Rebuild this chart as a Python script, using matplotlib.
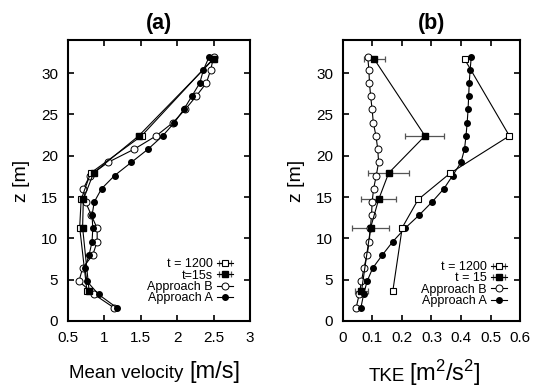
import matplotlib
matplotlib.use("Agg")
import matplotlib.pyplot as plt

plt.rcParams['font.family'] = ['Liberation Sans', 'DejaVu Sans']
plt.rcParams['mathtext.fontset'] = 'custom'
plt.rcParams['mathtext.rm'] = 'Liberation Sans'
plt.rcParams['mathtext.it'] = 'Liberation Sans'

# heights of the model levels and of the measurement points
z_model = [1.6, 3.2, 4.8, 6.4, 8.0, 9.6, 11.2, 12.8, 14.4, 16.0,
           17.6, 19.2, 20.8, 22.4, 24.0, 25.6, 27.2, 28.8, 30.4, 32.0]
z_meas = [3.6, 11.3, 14.7, 17.9, 22.4, 31.7]

# (a) mean velocity
velA = [1.17, 0.92, 0.76, 0.73, 0.79, 0.83, 0.84, 0.83, 0.86, 0.96,
        1.14, 1.37, 1.60, 1.80, 1.96, 2.09, 2.20, 2.31, 2.36, 2.44]
velB = [1.13, 0.86, 0.65, 0.70, 0.84, 0.90, 0.90, 0.82, 0.74, 0.71,
        0.80, 1.05, 1.41, 1.71, 1.94, 2.11, 2.26, 2.40, 2.46, 2.50]
vel1200 = [0.76, 0.66, 0.68, 0.81, 1.51, 2.49]
vel1200_err = [0.02, 0.03, 0.02, 0.02, 0.03, 0.02]
vel15 = [0.79, 0.70, 0.71, 0.85, 1.47, 2.50]
vel15_err = [0.02, 0.03, 0.02, 0.02, 0.03, 0.02]

# (b) TKE
tkeA = [0.061, 0.070, 0.082, 0.101, 0.134, 0.169, 0.210, 0.258, 0.302, 0.342,
        0.372, 0.400, 0.412, 0.417, 0.421, 0.424, 0.426, 0.428, 0.431, 0.435]
tkeB = [0.045, 0.055, 0.063, 0.071, 0.082, 0.089, 0.093, 0.097, 0.099, 0.104,
        0.113, 0.121, 0.118, 0.112, 0.103, 0.099, 0.094, 0.090, 0.088, 0.084]
tke1200 = [0.169, 0.201, 0.255, 0.364, 0.564, 0.412]
tke1200_err = [0.003, 0.004, 0.004, 0.005, 0.005, 0.004]
tke15 = [0.063, 0.094, 0.121, 0.155, 0.278, 0.106]
tke15_err = [0.022, 0.062, 0.060, 0.070, 0.066, 0.036]

fig = plt.figure(figsize=(5.4, 3.89), dpi=100)
axa = fig.add_axes([0.126, 0.175, 0.337, 0.722])
axb = fig.add_axes([0.635, 0.175, 0.328, 0.722])


def draw(ax, xA, xB, x1200, e1200, x15, e15, lab15, anchor):
    ebkw = dict(ecolor='#555555', elinewidth=0.9, capsize=2.5, capthick=0.9,
                color='black', lw=0.8)
    h1 = ax.errorbar(x1200, z_meas, xerr=e1200, marker='s', ms=5, mfc='white',
                     mec='black', mew=0.8, label='t = 1200', **ebkw)
    h2 = ax.errorbar(x15, z_meas, xerr=e15, marker='s', ms=5, mfc='black',
                     mec='black', label=lab15, **ebkw)
    h3, = ax.plot(xB, z_model, color='black', lw=0.8, marker='o', ms=5,
                  mfc='white', mec='black', mew=0.7, label='Approach B')
    h4, = ax.plot(xA, z_model, color='black', lw=0.8, marker='o', ms=4,
                  mfc='black', mec='black', label='Approach A')
    ax.legend(handles=[h1, h2, h3, h4], loc='lower right', markerfirst=False,
              frameon=False, fontsize=9, handlelength=1.3, handletextpad=0.3,
              labelspacing=-0.05, borderpad=0.2, borderaxespad=0,
              bbox_to_anchor=anchor)
    ax.set_ylim(0, 34)
    ax.set_yticks([0, 5, 10, 15, 20, 25, 30])
    ax.tick_params(direction='in', top=True, right=True, length=4, width=1.2,
                   labelsize=11, pad=7)
    for s in ax.spines.values():
        s.set_linewidth(1.5)
    ax.set_ylabel('z [m]', fontsize=14, labelpad=8)


draw(axa, velA, velB, vel1200, vel1200_err, vel15, vel15_err, 't=15s',
     (0.92, 0.05))
axa.set_xlim(0.5, 3)
axa.set_xticks([0.5, 1, 1.5, 2, 2.5, 3])
axa.set_xticklabels(['0.5', '1', '1.5', '2', '2.5', '3'])
axa.text(0.632, -0.203, 'Mean velocity', transform=axa.transAxes,
         ha='right', va='baseline', fontsize=13.5)
axa.text(0.665, -0.203, '[m/s]', transform=axa.transAxes,
         ha='left', va='baseline', fontsize=17)
axa.set_title('(a)', fontsize=15.5, fontweight='bold', pad=8)

draw(axb, tkeA, tkeB, tke1200, tke1200_err, tke15, tke15_err, 't = 15',
     (0.94, 0.04))
axb.set_xlim(0, 0.6)
axb.set_xticks([0, 0.1, 0.2, 0.3, 0.4, 0.5, 0.6])
axb.set_xticklabels(['0', '0.1', '0.2', '0.3', '0.4', '0.5', '0.6'])
axb.text(0.35, -0.213, 'TKE', transform=axb.transAxes,
         ha='right', va='baseline', fontsize=13.5)
axb.text(0.375, -0.213, r'[m$^2$/s$^2$]', transform=axb.transAxes,
         ha='left', va='baseline', fontsize=17)
axb.set_title('(b)', fontsize=15.5, fontweight='bold', pad=8)

fig.savefig('out.png', dpi=100)
